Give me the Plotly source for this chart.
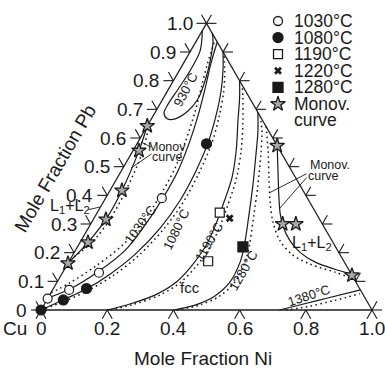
import numpy as np
import plotly.graph_objects as go

# ---------------------------------------------------------------- data
# liquidus isotherms (mole fraction Ni, mole fraction Pb); "_calc" = dotted curves
iso930_ni = [0.0, 0.029, 0.033, 0.029, 0.025, 0.028, 0.048, 0.072, 0.097, 0.106, 0.096, 0.077, 0.051, 0.035]
iso930_pb = [0.975, 0.903, 0.833, 0.771, 0.719, 0.6875, 0.667, 0.667, 0.694, 0.736, 0.799, 0.868, 0.9375, 0.965]

iso1030_ni = [0.0, 0.051, 0.107, 0.150, 0.166, 0.173, 0.171, 0.155, 0.133, 0.107, 0.083, 0.065]
iso1030_pb = [0.042, 0.073, 0.135, 0.208, 0.295, 0.392, 0.486, 0.590, 0.6875, 0.781, 0.861, 0.935]
iso1030_calc_ni = [0.0, 0.040, 0.090, 0.135, 0.155, 0.160, 0.158, 0.142, 0.120, 0.095, 0.073, 0.055]
iso1030_calc_pb = [0.060, 0.095, 0.155, 0.230, 0.310, 0.390, 0.490, 0.590, 0.690, 0.780, 0.860, 0.940]

iso1080_ni = [0.0, 0.049, 0.100, 0.146, 0.187, 0.217, 0.229, 0.226, 0.213, 0.190, 0.162, 0.130, 0.100]
iso1080_pb = [0.0, 0.035, 0.073, 0.125, 0.194, 0.285, 0.382, 0.479, 0.583, 0.677, 0.764, 0.840, 0.900]
iso1080_calc_ni = [0.0, 0.055, 0.108, 0.158, 0.200, 0.230, 0.242, 0.238, 0.225, 0.200, 0.170, 0.135, 0.105]
iso1080_calc_pb = [0.0, 0.030, 0.068, 0.120, 0.190, 0.285, 0.382, 0.480, 0.583, 0.677, 0.764, 0.840, 0.895]

iso1190_ni = [0.20, 0.258, 0.318, 0.358, 0.377, 0.386, 0.380, 0.368, 0.346, 0.310, 0.265, 0.230, 0.200]
iso1190_pb = [0.0, 0.021, 0.052, 0.094, 0.149, 0.219, 0.290, 0.358, 0.462, 0.560, 0.660, 0.740, 0.800]
iso1190_calc_ni = [0.21, 0.27, 0.33, 0.372, 0.392, 0.401, 0.395, 0.383, 0.360, 0.325, 0.280, 0.240, 0.215]
iso1190_calc_pb = [0.0, 0.020, 0.050, 0.094, 0.149, 0.219, 0.290, 0.358, 0.462, 0.560, 0.660, 0.740, 0.785]

iso1280_ni = [0.40, 0.457, 0.501, 0.522, 0.518, 0.504, 0.463, 0.423, 0.380, 0.343, 0.310]
iso1280_pb = [0.0, 0.017, 0.049, 0.097, 0.167, 0.219, 0.330, 0.434, 0.538, 0.625, 0.690]
iso1280_calc_ni = [0.41, 0.47, 0.515, 0.537, 0.533, 0.519, 0.478, 0.438, 0.395, 0.355, 0.325]
iso1280_calc_pb = [0.0, 0.017, 0.048, 0.097, 0.167, 0.219, 0.330, 0.434, 0.538, 0.625, 0.675]

iso1380_ni = [0.72, 0.78, 0.84, 0.93]
iso1380_pb = [0.0, 0.02, 0.04, 0.07]
iso1380_calc_ni = [0.74, 0.80, 0.87, 0.935]
iso1380_calc_pb = [0.0, 0.012, 0.033, 0.057]

# monovariant curves bounding the L1+L2 gap
monov_left_ni = [0.0, 0.024, 0.038, 0.036, 0.018, 0.0]
monov_left_pb = [0.163, 0.236, 0.316, 0.417, 0.556, 0.642]
monov_left_calc_ni = [0.0, 0.036, 0.050, 0.048, 0.030, 0.0]
monov_left_calc_pb = [0.175, 0.236, 0.316, 0.417, 0.556, 0.655]

monov_right_ni = [0.427, 0.473, 0.519, 0.554, 0.583, 0.630, 0.682, 0.745, 0.817, 0.875]
monov_right_pb = [0.573, 0.486, 0.399, 0.337, 0.295, 0.243, 0.201, 0.167, 0.142, 0.125]
monov_right_calc_ni = [0.360, 0.408, 0.454, 0.501, 0.548, 0.600, 0.661, 0.733, 0.822, 0.893]
monov_right_calc_pb = [0.640, 0.556, 0.469, 0.382, 0.306, 0.243, 0.194, 0.160, 0.132, 0.107]

# experimental points
exp1030_ni = [0.0, 0.05, 0.11, 0.17]
exp1030_pb = [0.04, 0.07, 0.13, 0.39]
exp1080_ni = [0.0, 0.05, 0.10, 0.21]
exp1080_pb = [0.0, 0.035, 0.075, 0.58]
exp1190_ni = [0.37, 0.42]
exp1190_pb = [0.34, 0.17]
exp1220_ni = [0.41]
exp1220_pb = [0.32]
exp1280_ni = [0.50]
exp1280_pb = [0.22]
exp_monov_ni = [0.0, 0.024, 0.038, 0.036, 0.018, 0.0, 0.427, 0.58, 0.62, 0.879]
exp_monov_pb = [0.163, 0.236, 0.316, 0.417, 0.556, 0.642, 0.573, 0.30, 0.30, 0.121]

left_ticks = [0, 0.1, 0.2, 0.3, 0.4, 0.5, 0.6, 0.7, 0.8, 0.9, 1.0]
left_tick_text = ["0", "0.1", "0.2", "0.3", "0.4", "0.5", "0.6", "0.7", "0.8", "0.9", "1.0"]
bottom_ticks = [0, 0.2, 0.4, 0.6, 0.8, 1.0]
bottom_tick_text = ["0", "0.2", "0.4", "0.6", "0.8", "1.0"]
right_ticks = [0, 0.1, 0.2, 0.3, 0.4, 0.5, 0.6, 0.7, 0.8, 0.9, 1.0]

# ---------------------------------------------------------------- geometry
W, H = 385, 368
X0, Y0, S = 41, 310, 331          # pixel position of Cu corner, px per unit
SQ = np.sqrt(3) / 2
FONT = "Liberation Sans, Arial, sans-serif"
INK = "#1a1a1a"
STAR_FILL = "#a8a8a8"


def tern(ni, pb):
    ni = np.asarray(ni, float)
    pb = np.asarray(pb, float)
    return ni + pb / 2, pb * SQ


def px(x, y):
    """pixel -> paper coordinates"""
    return x / W, 1 - y / H


fig = go.Figure()


def add_line(ni, pb, dash="solid", width=1.2, color=INK, smooth=True):
    x, y = tern(ni, pb)
    fig.add_trace(go.Scatter(
        x=x, y=y, mode="lines", hoverinfo="skip", showlegend=False,
        line=dict(color=color, width=width, dash=dash,
                  shape="spline" if smooth else "linear", smoothing=0.9)))


# triangle frame
add_line([0, 1], [0, 0], width=2.2, color="#555", smooth=False)
add_line([0, 0], [0, 1], width=1.2, smooth=False)
add_line([1, 0], [0, 1], width=1.2, smooth=False)

# tick marks: outward extensions of the grid lines
L = 10 / S
tx, ty = [], []
for t in left_ticks:
    x, y = tern(0, t)
    for dx, dy in [(-1, 0), (-0.5, SQ)]:
        tx += [x, x + dx * L, None]
        ty += [y, y + dy * L, None]
for t in right_ticks:
    x, y = tern(1 - t, t)
    for dx, dy in [(1, 0), (0.5, SQ)]:
        tx += [x, x + dx * L, None]
        ty += [y, y + dy * L, None]
for t in bottom_ticks:
    x, y = tern(t, 0)
    for dx, dy in [(-0.5, -SQ), (0.5, -SQ)]:
        tx += [x, x + dx * L, None]
        ty += [y, y + dy * L, None]
fig.add_trace(go.Scatter(x=tx, y=ty, mode="lines", hoverinfo="skip", showlegend=False,
                         line=dict(color=INK, width=1.1)))

DOT = "1.6px,3.4px"
add_line(iso930_ni, iso930_pb)
add_line(iso1030_ni, iso1030_pb)
add_line(iso1030_calc_ni, iso1030_calc_pb, dash=DOT, width=1.5)
add_line(iso1080_ni, iso1080_pb)
add_line(iso1080_calc_ni, iso1080_calc_pb, dash=DOT, width=1.5)
add_line(iso1190_ni, iso1190_pb)
add_line(iso1190_calc_ni, iso1190_calc_pb, dash=DOT, width=1.5)
add_line(iso1280_ni, iso1280_pb)
add_line(iso1280_calc_ni, iso1280_calc_pb, dash=DOT, width=1.5)
add_line(iso1380_ni, iso1380_pb)
add_line(iso1380_calc_ni, iso1380_calc_pb, dash=DOT, width=1.5)
add_line(monov_left_ni, monov_left_pb)
add_line(monov_left_calc_ni, monov_left_calc_pb, dash=DOT, width=1.5)
add_line(monov_right_ni, monov_right_pb)
add_line(monov_right_calc_ni, monov_right_calc_pb, dash=DOT, width=1.5)


def add_points(ni, pb, symbol, size, fill, line_w=1.2):
    x, y = tern(ni, pb)
    fig.add_trace(go.Scatter(
        x=x, y=y, mode="markers", hoverinfo="skip", showlegend=False,
        marker=dict(symbol=symbol, size=size, color=fill,
                    line=dict(color=INK, width=line_w))))


add_points(exp1030_ni, exp1030_pb, "circle", 9, "white")
add_points(exp1080_ni, exp1080_pb, "circle", 10, INK)
add_points(exp1190_ni, exp1190_pb, "square", 9, "white")
add_points(exp1220_ni, exp1220_pb, "x", 7, INK, 0)
add_points(exp1280_ni, exp1280_pb, "square", 10, INK)
add_points(exp_monov_ni, exp_monov_pb, "star", 11, STAR_FILL, 1.3)

ann = []


def text(x, y, s, size=19, angle=0, xanchor="center", yanchor="middle"):
    px_, py_ = px(x, y)
    ann.append(dict(x=px_, y=py_, xref="paper", yref="paper", text=s, showarrow=False,
                    textangle=angle, xanchor=xanchor, yanchor=yanchor,
                    font=dict(family=FONT, size=size, color=INK)))


# tick labels
for t, s in zip(left_ticks, left_tick_text):
    x, y = tern(0, t)
    text(X0 + x * S - 12, Y0 - y * S, s, xanchor="right")
for t, s in zip(bottom_ticks, bottom_tick_text):
    x, y = tern(t, 0)
    text(X0 + x * S, Y0 + 18, s)
text(15, 328, "Cu")

# axis titles
text(203, 358, "Mole Fraction Ni")
text(55, 168, "Mole Fraction Pb", angle=-60)

# isotherm labels
text(186, 90, "930°C", 13, -62)
text(140, 224, "1030°C", 13, -54)
text(176, 229, "1080°C", 13, -64)
text(209, 241, "1190°C", 13, -60)
text(243, 270, "1280°C", 13, -60)
text(309, 295, "1380°C", 13, -18)
text(190, 287, "fcc", 15)
text(312, 243, "L<sub>1</sub>+L<sub>2</sub>", 16)
text(70, 206, "L<sub>1</sub>+L<sub>2</sub>", 16)
text(167, 147, "Monov", 12.5)
text(167, 157, "curve", 12.5)
text(330, 165, "Monov.", 12.5)
text(323, 176, "curve", 12.5)

# legend
legend_rows = [("1030°C", "circle", "white", 9), ("1080°C", "circle", INK, 10),
               ("1190°C", "square", "white", 9), ("1220°C", "x", INK, 7),
               ("1280°C", "square", INK, 10), ("Monov.", "star", STAR_FILL, 11)]
for i, (lab, sym, fill, size) in enumerate(legend_rows):
    yy = 21 + 16.6 * i
    text(292, yy, lab, 17.5, xanchor="left")
    gx, gy = (278 - X0) / S, (Y0 - yy) / S
    fig.add_trace(go.Scatter(x=[gx], y=[gy], mode="markers", hoverinfo="skip", showlegend=False,
                             marker=dict(symbol=sym, size=size, color=fill,
                                         line=dict(color=INK, width=0 if sym == "x" else 1.3))))
text(292, 21 + 16.6 * 6 - 1, "curve", 17.5, xanchor="left")


# leader lines
def leader(tx_, ty_, hx, hy):
    a, b = px(hx, hy)
    ann.append(dict(x=a, y=b, xref="paper", yref="paper", ax=tx_ - hx, ay=ty_ - hy,
                    text="", showarrow=True, arrowhead=0, arrowwidth=0.9, arrowcolor=INK,
                    standoff=0, startstandoff=0))


leader(153, 148, 141, 142)
leader(153, 153, 131, 168)
leader(308, 173, 269, 193)
leader(308, 176, 280, 208)
leader(87, 210, 100, 207)

fig.update_layout(
    width=W, height=H, margin=dict(l=0, r=0, t=0, b=0),
    paper_bgcolor="white", plot_bgcolor="white", showlegend=False,
    xaxis=dict(range=[-X0 / S, (W - X0) / S], visible=False, fixedrange=True),
    yaxis=dict(range=[(Y0 - H) / S, Y0 / S], visible=False, fixedrange=True),
    annotations=ann,
)
fig.write_html("out.html")
